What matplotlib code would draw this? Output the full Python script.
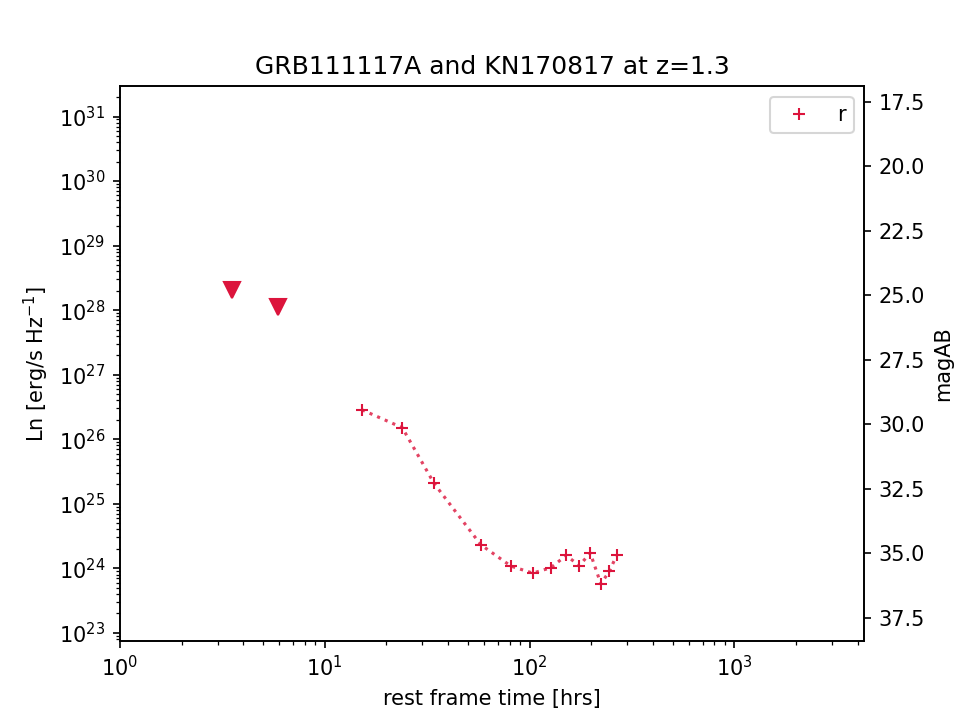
import numpy as np
import matplotlib
matplotlib.use('Agg')
import matplotlib.pyplot as plt

# upper limits (triangles)
t_lim = [3.52, 5.91]
L_lim = [2.03e28, 1.10e28]

# r-band detections
t_r = [15.2, 23.9, 34.2, 57.8, 81.1, 103.8, 127, 151, 175, 198, 223, 245.6, 267]
L_r = [2.85e26, 1.51e26, 2.06e25, 2.32e24, 1.08e24, 8.4e23, 1.02e24, 1.58e24,
       1.10e24, 1.72e24, 5.74e23, 9.0e23, 1.62e24]

mag_offset = 95.58  # magAB = offset - 2.5 log10(Ln)
xlim = (1, 4300)
ylim = (10**22.876, 10**31.467)

fig, ax = plt.subplots(figsize=(6.4, 4.8), dpi=150)
ax.plot(t_r, L_r, ':', color='crimson', alpha=0.8)
ax.plot(t_r, L_r, '+', color='crimson', label='r')
ax.plot(t_lim, L_lim, 'v', color='crimson', markersize=8)
ax.set_xscale('log')
ax.set_yscale('log')
ax.set_xlim(*xlim)
ax.set_ylim(*ylim)
ax.set_xlabel('rest frame time [hrs]')
ax.set_ylabel('Ln [erg/s Hz$^{-1}$]')
ax.set_title('GRB111117A and KN170817 at z=1.3')
ax.legend(loc='upper right')

ax2 = ax.twinx()
ax2.set_ylim(mag_offset - 2.5 * np.log10(ylim[0]), mag_offset - 2.5 * np.log10(ylim[1]))
ax2.set_ylabel('magAB')

fig.savefig('out.png')
